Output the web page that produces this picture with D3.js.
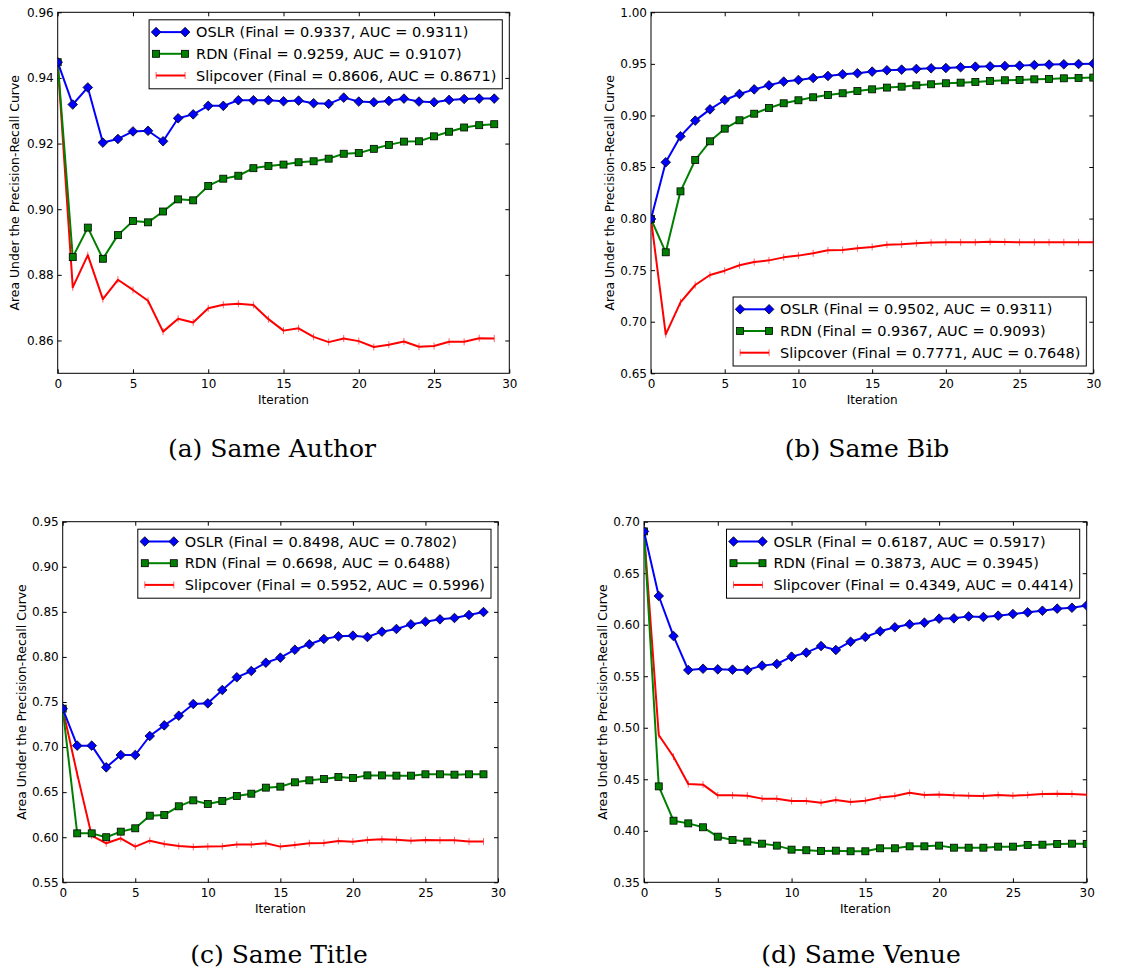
<!DOCTYPE html>
<html>
<head>
<meta charset="utf-8">
<script src="https://cdn.jsdelivr.net/npm/d3@7"></script>
<style>
  body { margin: 0; background: #fff; }
  text { font-family: "DejaVu Sans", sans-serif; fill: #000; }
  .caption { font-family: "DejaVu Serif", serif; }
</style>
</head>
<body>
<div id="chart"></div>
<script>
// values, one array per curve
const methodNames = ["OSLR", "RDN", "Slipcover"];

// (a) Same Author, iterations 0..29
const authorOslr = [0.9448, 0.9319, 0.9371, 0.9203, 0.9214, 0.9237, 0.9239, 0.9207, 0.9277, 0.9289,
  0.9315, 0.9315, 0.9332, 0.9332, 0.9332, 0.9329, 0.9331, 0.9323, 0.9321, 0.9340,
  0.9328, 0.9326, 0.9330, 0.9337, 0.9328, 0.9326, 0.9333, 0.9336, 0.9337, 0.9337];
const authorRdn = [0.9448, 0.8854, 0.8944, 0.8849, 0.8921, 0.8964, 0.8960, 0.8993, 0.9030, 0.9027,
  0.9071, 0.9093, 0.9102, 0.9125, 0.9132, 0.9136, 0.9143, 0.9146, 0.9154, 0.9169,
  0.9171, 0.9184, 0.9196, 0.9206, 0.9207, 0.9222, 0.9236, 0.9249, 0.9256, 0.9259];
const authorSlip = [0.9448, 0.8762, 0.8860, 0.8726, 0.8785, 0.8754, 0.8721, 0.8627, 0.8666, 0.8655,
  0.8698, 0.8709, 0.8712, 0.8708, 0.8665, 0.8630, 0.8637, 0.8611, 0.8595, 0.8606,
  0.8598, 0.8580, 0.8587, 0.8597, 0.8581, 0.8583, 0.8596, 0.8596, 0.8607, 0.8606];
const authorFinal = [0.9337, 0.9259, 0.8606];
const authorAuc = [0.9311, 0.9107, 0.8671];
const authorTicks = [0.86, 0.88, 0.90, 0.92, 0.94, 0.96];

// (b) Same Bib, iterations 0..30
const bibOslr = [0.7996, 0.8546, 0.8798, 0.8950, 0.9059, 0.9150, 0.9208, 0.9253, 0.9292, 0.9328,
  0.9344, 0.9363, 0.9383, 0.9399, 0.9409, 0.9425, 0.9438, 0.9444, 0.9451, 0.9457,
  0.9460, 0.9467, 0.9473, 0.9476, 0.9480, 0.9483, 0.9489, 0.9493, 0.9496, 0.9499, 0.9502];
const bibRdn = [0.7996, 0.7673, 0.8264, 0.8568, 0.8749, 0.8872, 0.8953, 0.9017, 0.9072, 0.9118,
  0.9147, 0.9176, 0.9198, 0.9215, 0.9237, 0.9253, 0.9270, 0.9279, 0.9292, 0.9302,
  0.9312, 0.9318, 0.9325, 0.9334, 0.9341, 0.9344, 0.9350, 0.9354, 0.9360, 0.9363, 0.9367];
const bibSlip = [0.7996, 0.6878, 0.7188, 0.7356, 0.7453, 0.7495, 0.7547, 0.7579, 0.7595, 0.7624,
  0.7641, 0.7663, 0.7692, 0.7696, 0.7712, 0.7725, 0.7747, 0.7750, 0.7760, 0.7767,
  0.7770, 0.7770, 0.7770, 0.7776, 0.7773, 0.7770, 0.7770, 0.7770, 0.7770, 0.7770, 0.7771];
const bibFinal = [0.9502, 0.9367, 0.7771];
const bibAuc = [0.9311, 0.9093, 0.7648];
const bibTicks = [0.65, 0.70, 0.75, 0.80, 0.85, 0.90, 0.95, 1.00];

// (c) Same Title, iterations 0..29
const titleOslr = [0.7426, 0.7016, 0.7016, 0.6775, 0.6912, 0.6912, 0.7123, 0.7241, 0.7348, 0.7478,
  0.7485, 0.7633, 0.7774, 0.7844, 0.7936, 0.7992, 0.8080, 0.8140, 0.8199, 0.8228,
  0.8236, 0.8221, 0.8280, 0.8310, 0.8361, 0.8391, 0.8417, 0.8432, 0.8465, 0.8498];
const titleRdn = [0.7426, 0.6043, 0.6043, 0.6000, 0.6062, 0.6099, 0.6239, 0.6247, 0.6343, 0.6409,
  0.6369, 0.6402, 0.6457, 0.6483, 0.6550, 0.6561, 0.6609, 0.6631, 0.6646, 0.6668,
  0.6657, 0.6686, 0.6686, 0.6683, 0.6683, 0.6698, 0.6698, 0.6694, 0.6698, 0.6698];
const titleSlip = [0.7426, 0.6700, 0.6017, 0.5933, 0.5988, 0.5896, 0.5962, 0.5925, 0.5903, 0.5892,
  0.5896, 0.5899, 0.5918, 0.5918, 0.5933, 0.5896, 0.5914, 0.5933, 0.5936, 0.5958,
  0.5951, 0.5969, 0.5977, 0.5973, 0.5962, 0.5969, 0.5966, 0.5966, 0.5952, 0.5952];
const titleFinal = [0.8498, 0.6698, 0.5952];
const titleAuc = [0.7802, 0.6488, 0.5996];
const titleTicks = [0.55, 0.60, 0.65, 0.70, 0.75, 0.80, 0.85, 0.90, 0.95];

// (d) Same Venue, iterations 0..30
const venueOslr = [0.6906, 0.6279, 0.5890, 0.5560, 0.5573, 0.5567, 0.5564, 0.5560, 0.5603, 0.5619,
  0.5690, 0.5729, 0.5793, 0.5755, 0.5835, 0.5881, 0.5936, 0.5975, 0.6004, 0.6020,
  0.6059, 0.6062, 0.6081, 0.6075, 0.6088, 0.6104, 0.6120, 0.6136, 0.6156, 0.6165, 0.6187];
const venueRdn = [0.6906, 0.4431, 0.4098, 0.4072, 0.4034, 0.3943, 0.3911, 0.3895, 0.3875, 0.3856,
  0.3817, 0.3811, 0.3804, 0.3807, 0.3801, 0.3801, 0.3830, 0.3830, 0.3849, 0.3849,
  0.3856, 0.3836, 0.3836, 0.3836, 0.3846, 0.3846, 0.3862, 0.3865, 0.3872, 0.3875, 0.3873];
const venueSlip = [0.6906, 0.4930, 0.4719, 0.4454, 0.4448, 0.4344, 0.4344, 0.4341, 0.4312, 0.4312,
  0.4289, 0.4289, 0.4273, 0.4299, 0.4280, 0.4292, 0.4322, 0.4338, 0.4370, 0.4347,
  0.4351, 0.4344, 0.4341, 0.4338, 0.4347, 0.4341, 0.4347, 0.4357, 0.4360, 0.4357, 0.4349];
const venueFinal = [0.6187, 0.3873, 0.4349];
const venueAuc = [0.5917, 0.3945, 0.4414];
const venueTicks = [0.35, 0.40, 0.45, 0.50, 0.55, 0.60, 0.65, 0.70];

const xTicks = [0, 5, 10, 15, 20, 25, 30];
const captions = ["(a) Same Author", "(b) Same Bib", "(c) Same Title", "(d) Same Venue"];

// layout of the four sub-figures
const panels = [
  { series: [authorOslr, authorRdn, authorSlip], final: authorFinal, auc: authorAuc, ticks: authorTicks,
    ydom: [0.85, 0.96], left: 57.7, right: 509.3, top: 12.3, bottom: 373.3, legend: "top",
    ylabelX: 15, capX: 272, capY: 457 },
  { series: [bibOslr, bibRdn, bibSlip], final: bibFinal, auc: bibAuc, ticks: bibTicks,
    ydom: [0.65, 1.00], left: 651, right: 1093.3, top: 12.3, bottom: 373.3, legend: "bottom",
    ylabelX: 610, capX: 867, capY: 457 },
  { series: [titleOslr, titleRdn, titleSlip], final: titleFinal, auc: titleAuc, ticks: titleTicks,
    ydom: [0.55, 0.95], left: 62.7, right: 498, top: 521.7, bottom: 882.3, legend: "top",
    ylabelX: 22, capX: 279, capY: 963 },
  { series: [venueOslr, venueRdn, venueSlip], final: venueFinal, auc: venueAuc, ticks: venueTicks,
    ydom: [0.35, 0.70], left: 644, right: 1086.7, top: 521.7, bottom: 882.3, legend: "top",
    ylabelX: 603, capX: 861, capY: 963 }
];

const colors = ["#0000ff", "#008000", "#ff0000"];

const svg = d3.select("#chart")
  .append("svg")
  .attr("width", 1131)
  .attr("height", 972)
  .style("background", "#fff");

// marker drawing for each method
function drawMarker(g, k) {
  if (k === 0) {
    g.append("path")
      .attr("d", "M0,-4.8L4.8,0L0,4.8L-4.8,0Z")
      .attr("fill", colors[0])
      .attr("stroke", "#000")
      .attr("stroke-width", 0.8);
  } else if (k === 1) {
    g.append("rect")
      .attr("x", -3.5).attr("y", -3.5)
      .attr("width", 7).attr("height", 7)
      .attr("fill", colors[1])
      .attr("stroke", "#000")
      .attr("stroke-width", 0.8);
  } else {
    g.append("line")
      .attr("y1", -3.5).attr("y2", 3.5)
      .attr("stroke", colors[2])
      .attr("stroke-opacity", 0.6)
      .attr("stroke-width", 1);
  }
}

function renderPanel(p, idx) {
  const x = d3.scaleLinear().domain([0, 30]).range([p.left, p.right]);
  const y = d3.scaleLinear().domain(p.ydom).range([p.bottom, p.top]);
  const g = svg.append("g");

  g.append("clipPath")
    .attr("id", "clip" + idx)
    .append("rect")
    .attr("x", p.left).attr("y", p.top)
    .attr("width", p.right - p.left).attr("height", p.bottom - p.top);

  // axes with inward ticks on all four sides
  const fmt = d3.format(".2f");
  g.append("g")
    .attr("transform", `translate(0,${p.bottom})`)
    .call(d3.axisBottom(x).tickValues(xTicks).tickFormat(d3.format("d"))
      .tickSizeInner(-4).tickSizeOuter(0).tickPadding(6.5));
  g.append("g")
    .attr("transform", `translate(0,${p.top})`)
    .call(d3.axisTop(x).tickValues(xTicks).tickFormat("")
      .tickSizeInner(-4).tickSizeOuter(0));
  g.append("g")
    .attr("transform", `translate(${p.left},0)`)
    .call(d3.axisLeft(y).tickValues(p.ticks).tickFormat(fmt)
      .tickSizeInner(-4).tickSizeOuter(0).tickPadding(4));
  g.append("g")
    .attr("transform", `translate(${p.right},0)`)
    .call(d3.axisRight(y).tickValues(p.ticks).tickFormat("")
      .tickSizeInner(-4).tickSizeOuter(0));

  g.selectAll(".domain").remove();
  g.selectAll(".tick line").attr("stroke", "#000").attr("stroke-width", 1);
  g.selectAll(".tick text")
    .style("font-family", "'DejaVu Sans', sans-serif")
    .style("font-size", "12px")
    .attr("fill", "#000");

  g.append("rect")
    .attr("x", p.left).attr("y", p.top)
    .attr("width", p.right - p.left).attr("height", p.bottom - p.top)
    .attr("fill", "none")
    .attr("stroke", "#000")
    .attr("stroke-width", 1);

  // curves
  const plot = g.append("g").attr("clip-path", `url(#clip${idx})`);
  const line = d3.line()
    .x((d, i) => x(i))
    .y(d => y(d));

  // draw slipcover first, then RDN, then OSLR on top
  [2, 1, 0].forEach(k => {
    const vals = p.series[k];
    plot.append("path")
      .datum(vals)
      .attr("fill", "none")
      .attr("stroke", colors[k])
      .attr("stroke-width", 2)
      .attr("stroke-linejoin", "round")
      .attr("d", line);
    vals.forEach((v, i) => {
      const m = plot.append("g").attr("transform", `translate(${x(i)},${y(v)})`);
      drawMarker(m, k);
    });
  });

  // axis titles
  g.append("text")
    .attr("x", (p.left + p.right) / 2)
    .attr("y", p.bottom + 31)
    .attr("text-anchor", "middle")
    .style("font-size", "12px")
    .text("Iteration");

  g.append("text")
    .attr("transform", `translate(${p.ylabelX},${(p.top + p.bottom) / 2}) rotate(-90)`)
    .attr("text-anchor", "middle")
    .attr("dy", "0.35em")
    .style("font-size", "12.4px")
    .text("Area Under the Precision-Recall Curve");

  // legend
  const leg = g.append("g");
  const box = leg.append("rect")
    .attr("fill", "#fff")
    .attr("stroke", "#000")
    .attr("stroke-width", 1);
  let maxLen = 0;
  const rows = [];
  methodNames.forEach((name, k) => {
    const row = leg.append("g");
    const label = `${name} (Final = ${p.final[k].toFixed(4)}, AUC = ${p.auc[k].toFixed(4)})`;
    const t = row.append("text")
      .attr("x", 47)
      .attr("y", 12.3 + k * 21.7)
      .attr("dy", "0.35em")
      .style("font-size", "14.5px")
      .text(label);
    maxLen = Math.max(maxLen, t.node().getComputedTextLength());
    row.append("line")
      .attr("x1", 7).attr("x2", 36)
      .attr("y1", 12.3 + k * 21.7).attr("y2", 12.3 + k * 21.7)
      .attr("stroke", colors[k])
      .attr("stroke-width", 2);
    [7, 36].forEach(px => {
      drawMarker(row.append("g").attr("transform", `translate(${px},${12.3 + k * 21.7})`), k);
    });
    rows.push(row);
  });
  const w = 47 + maxLen + 6, h = 69;
  box.attr("width", w).attr("height", h);
  const bx = p.right - 7 - w;
  const by = p.legend === "top" ? p.top + 7.5 : p.bottom - 7.3 - h;
  leg.attr("transform", `translate(${bx},${by})`);

  // caption under each sub-figure
  svg.append("text")
    .attr("class", "caption")
    .attr("x", p.capX)
    .attr("y", p.capY)
    .attr("text-anchor", "middle")
    .style("font-size", "25px")
    .text(captions[idx]);
}

panels.forEach(renderPanel);
</script>
</body>
</html>
